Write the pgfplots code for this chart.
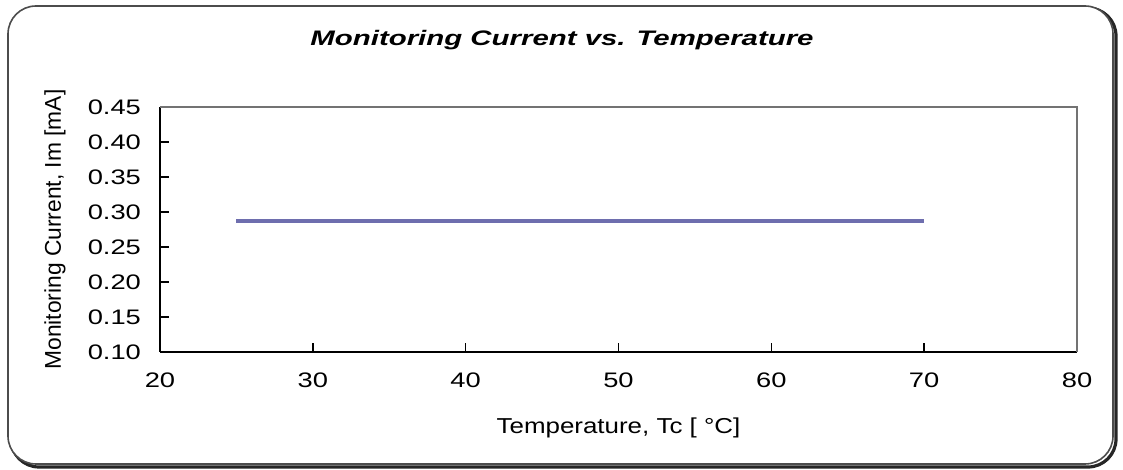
\documentclass[border=0pt]{standalone}
\usepackage{fontspec}
\setmainfont{Liberation Sans}
\newfontfamily\widefont[FakeStretch=1.3]{Liberation Sans}
\newfontfamily\titlefont[FakeStretch=1.4]{Liberation Sans}
\newfontfamily\labfont[FakeStretch=1.2]{Liberation Sans}
\usepackage{pgfplots}
\pgfplotsset{compat=1.18}
\definecolor{linecol}{RGB}{110,110,174}
\begin{document}
\begin{tikzpicture}[x=1pt,y=1pt]
\useasboundingbox (-80,-59) rectangle (481.5,176);
% outer frame with shadow
\draw[line width=1.6pt,black!85,rounded corners=14pt] (-74.5,-57.5) rectangle (478,172);
\draw[line width=0.8pt,black!70,rounded corners=14pt,fill=white] (-76,-56) rectangle (476.5,173);
\begin{axis}[
  at={(0,0)}, anchor=south west,
  scale only axis,
  width=458.5pt, height=122.5pt,
  xmin=20, xmax=80, ymin=0.10, ymax=0.45,
  xtick={20,30,...,80},
  ytick={0.10,0.15,...,0.45},
  axis x line*=bottom, axis y line*=left,
  axis line style={line width=0.9pt,black},
  tick align=inside,
  major tick length=4.5pt,
  tick style={line width=0.8pt,black},
  font=\widefont\fontsize{10.5}{12}\selectfont,
  /pgf/number format/assume math mode=true,
  yticklabel style={anchor=east,xshift=-6pt,/pgf/number format/fixed,/pgf/number format/fixed zerofill,/pgf/number format/precision=2},
  xticklabel style={yshift=-7pt},
  xlabel={Temperature, Tc [ °C]},
  ylabel={Monitoring Current, Im [mA]},
  xlabel style={font=\labfont\fontsize{10.8}{12}\selectfont,at={(axis description cs:0.5,0)},anchor=center,yshift=-38pt},
  ylabel style={font=\fontsize{11.4}{13}\selectfont,at={(axis description cs:0,0.5)},anchor=center,xshift=0pt,yshift=52.5pt},
  clip=false,
]
\draw[black!55,line width=0.7pt] (rel axis cs:0,1) -- (rel axis cs:1,1) -- (rel axis cs:1,0);
\addplot[linecol,line width=1.9pt] coordinates {(25,0.287) (70,0.287)};
\end{axis}
\node[font=\titlefont\fontsize{10.5}{12}\selectfont\bfseries\itshape] at (201,156) {Monitoring Current vs. Temperature};
\end{tikzpicture}
\end{document}
